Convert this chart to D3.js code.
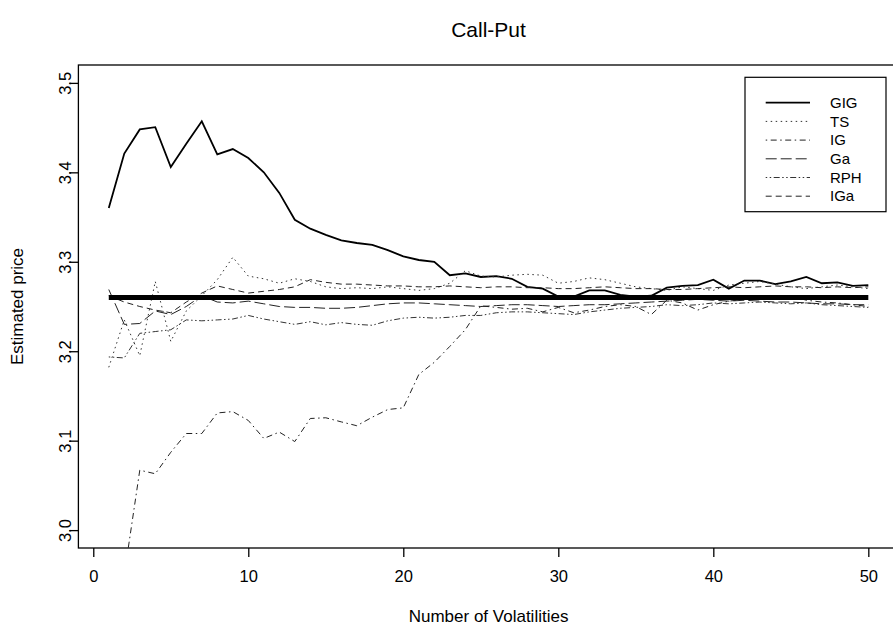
<!DOCTYPE html>
<html>
<head>
<meta charset="utf-8">
<script src="https://cdn.jsdelivr.net/npm/d3@7"></script>
<style>
  body { margin: 0; background: #fff; }
  svg text { font-family: "Liberation Sans", Arial, sans-serif; fill: #000; }
</style>
</head>
<body>
<div id="chart"></div>
<script>
/* number of volatilities on the x axis */
const volatilities = [1, 2, 3, 4, 5, 6, 7, 8, 9, 10, 11, 12, 13, 14, 15, 16, 17, 18, 19, 20,
  21, 22, 23, 24, 25, 26, 27, 28, 29, 30, 31, 32, 33, 34, 35, 36, 37, 38, 39, 40,
  41, 42, 43, 44, 45, 46, 47, 48, 49, 50];

/* estimated prices per model */
const gig = [3.360, 3.421, 3.448, 3.4505, 3.406, 3.432, 3.457, 3.420, 3.426, 3.416,
  3.400, 3.377, 3.347, 3.337, 3.330, 3.324, 3.321, 3.319, 3.313, 3.306,
  3.302, 3.300, 3.285, 3.287, 3.283, 3.284, 3.281, 3.272, 3.270, 3.261,
  3.261, 3.268, 3.268, 3.263, 3.261, 3.262, 3.271, 3.273, 3.274, 3.280,
  3.270, 3.279, 3.279, 3.275, 3.278, 3.283, 3.276, 3.277, 3.273, 3.274];
const ts = [3.182, 3.235, 3.195, 3.278, 3.211, 3.245, 3.262, 3.280, 3.305, 3.284,
  3.281, 3.276, 3.281, 3.278, 3.272, 3.270, 3.271, 3.270, 3.272, 3.270,
  3.268, 3.270, 3.276, 3.290, 3.284, 3.283, 3.285, 3.286, 3.285, 3.276,
  3.278, 3.282, 3.280, 3.276, 3.272, 3.270, 3.268, 3.272, 3.270, 3.268,
  3.274, 3.276, 3.278, 3.275, 3.272, 3.270, 3.272, 3.274, 3.272, 3.270];
const ig = [2.880, 2.950, 3.067, 3.063, 3.087, 3.108, 3.108, 3.131, 3.1325, 3.1226,
  3.1025, 3.1096, 3.099, 3.1248, 3.1256, 3.121, 3.1167, 3.1263, 3.1348, 3.1367,
  3.174, 3.1876, 3.2054, 3.224, 3.2507, 3.249, 3.247, 3.248, 3.244, 3.249,
  3.243, 3.246, 3.250, 3.252, 3.250, 3.241, 3.257, 3.254, 3.246, 3.252,
  3.256, 3.258, 3.262, 3.258, 3.262, 3.257, 3.255, 3.254, 3.252, 3.250];
const ga = [3.269, 3.230, 3.231, 3.245, 3.241, 3.250, 3.262, 3.255, 3.254, 3.256,
  3.253, 3.250, 3.249, 3.249, 3.248, 3.248, 3.249, 3.251, 3.253, 3.254,
  3.254, 3.253, 3.252, 3.251, 3.250, 3.251, 3.252, 3.252, 3.251, 3.250,
  3.251, 3.252, 3.252, 3.253, 3.254, 3.255, 3.256, 3.257, 3.258, 3.257,
  3.256, 3.257, 3.256, 3.255, 3.255, 3.254, 3.253, 3.253, 3.252, 3.252];
const rph = [3.1936, 3.1925, 3.220, 3.222, 3.224, 3.235, 3.234, 3.235, 3.236, 3.240,
  3.236, 3.233, 3.230, 3.233, 3.2295, 3.232, 3.230, 3.229, 3.234, 3.237,
  3.238, 3.237, 3.238, 3.240, 3.240, 3.243, 3.244, 3.244, 3.243, 3.242,
  3.241, 3.244, 3.246, 3.248, 3.249, 3.250, 3.252, 3.251, 3.252, 3.254,
  3.253, 3.254, 3.255, 3.254, 3.253, 3.254, 3.252, 3.251, 3.250, 3.249];
const iga = [3.262, 3.255, 3.250, 3.246, 3.243, 3.255, 3.265, 3.273, 3.269, 3.265,
  3.267, 3.269, 3.272, 3.280, 3.277, 3.275, 3.275, 3.274, 3.273, 3.273,
  3.272, 3.272, 3.273, 3.272, 3.271, 3.272, 3.272, 3.271, 3.271, 3.270,
  3.270, 3.271, 3.272, 3.271, 3.270, 3.270, 3.269, 3.269, 3.270, 3.271,
  3.272, 3.271, 3.272, 3.273, 3.272, 3.272, 3.271, 3.272, 3.271, 3.272];

/* reference price drawn as thick line */
const truePrice = 3.26;

const seriesNames = ['GIG', 'TS', 'IG', 'Ga', 'RPH', 'IGa'];
const seriesValues = [gig, ts, ig, ga, rph, iga];
const xTicks = [0, 10, 20, 30, 40, 50];
const yTicks = [3.0, 3.1, 3.2, 3.3, 3.4, 3.5];

class PriceChart {
  constructor(_config) {
    this.config = {
      parentElement: _config.parentElement,
      containerWidth: 893,
      containerHeight: 630,
      plot: { left: 78.4, right: 898.7, top: 65, bottom: 548 },
      dashes: ['none', '1.5,3.5', '1.5,3.5,6,3.5', '11,4', '1.5,2.5,1.5,2.5,6,2.5', '6,4'],
      widths: [1.8, 1, 1, 1, 1, 1],
      colors: ['#000', '#333', '#222', '#222', '#333', '#222'],
      tickFont: 16.5,
      labelFont: 17,
      titleFont: 21,
    };
    this.initVis();
  }

  initVis() {
    const vis = this;
    const p = vis.config.plot;

    vis.svg = d3.select(vis.config.parentElement).append('svg')
      .attr('width', vis.config.containerWidth)
      .attr('height', vis.config.containerHeight);

    /* R-style 4% padding around data range */
    vis.x = d3.scaleLinear().domain([-0.96, 51.96]).range([p.left, p.right]);
    vis.y = d3.scaleLinear().domain([2.98, 3.52]).range([p.bottom, p.top]);

    vis.svg.append('clipPath').attr('id', 'plot-clip')
      .append('rect')
      .attr('x', p.left).attr('y', p.top)
      .attr('width', p.right - p.left).attr('height', p.bottom - p.top);

    vis.chartArea = vis.svg.append('g').attr('clip-path', 'url(#plot-clip)');

    vis.line = d3.line()
      .x((d) => vis.x(d.x))
      .y((d) => vis.y(d.y));

    vis.series = seriesNames.map((name, i) => ({
      name,
      points: volatilities.map((v, j) => ({ x: v, y: seriesValues[i][j] })),
    }));

    vis.renderVis();
    vis.renderAxes();
    vis.renderLegend();
  }

  renderVis() {
    const vis = this;

    vis.chartArea.selectAll('.series')
      .data(vis.series)
      .join('path')
      .attr('class', 'series')
      .attr('fill', 'none')
      .attr('stroke', (d, i) => vis.config.colors[i])
      .attr('stroke-width', (d, i) => vis.config.widths[i])
      .attr('stroke-dasharray', (d, i) => vis.config.dashes[i])
      .attr('d', (d) => vis.line(d.points));

    /* thick line for the true price */
    vis.chartArea.append('line')
      .attr('x1', vis.x(volatilities[0]))
      .attr('x2', vis.x(volatilities[volatilities.length - 1]))
      .attr('y1', vis.y(truePrice))
      .attr('y2', vis.y(truePrice))
      .attr('stroke', '#000')
      .attr('stroke-width', 5);
  }

  renderAxes() {
    const vis = this;
    const p = vis.config.plot;

    vis.svg.append('rect')
      .attr('x', p.left).attr('y', p.top)
      .attr('width', p.right - p.left).attr('height', p.bottom - p.top)
      .attr('fill', 'none')
      .attr('stroke', '#000')
      .attr('stroke-width', 1.3);

    const xAxis = vis.svg.append('g')
      .attr('transform', `translate(0,${p.bottom})`)
      .call(d3.axisBottom(vis.x).tickValues(xTicks).tickSize(9));
    xAxis.select('.domain').remove();
    xAxis.selectAll('line').attr('stroke-width', 1.3);
    xAxis.selectAll('text')
      .attr('font-size', vis.config.tickFont)
      .attr('font-family', null)
      .attr('dy', null)
      .attr('y', 34);

    const yAxis = vis.svg.append('g')
      .attr('transform', `translate(${p.left},0)`)
      .call(d3.axisLeft(vis.y).tickValues(yTicks).tickSize(9).tickFormat(d3.format('.1f')));
    yAxis.select('.domain').remove();
    yAxis.selectAll('line').attr('stroke-width', 1.3);
    yAxis.selectAll('text')
      .attr('font-size', vis.config.tickFont)
      .attr('font-family', null)
      .attr('x', null).attr('dy', null)
      .attr('text-anchor', 'middle')
      .attr('transform', 'translate(-7,0) rotate(-90)');

    vis.svg.append('text')
      .attr('x', (p.left + p.right) / 2).attr('y', 37)
      .attr('text-anchor', 'middle')
      .attr('font-size', vis.config.titleFont)
      .text('Call-Put');

    vis.svg.append('text')
      .attr('x', (p.left + p.right) / 2).attr('y', 622)
      .attr('text-anchor', 'middle')
      .attr('font-size', vis.config.labelFont)
      .text('Number of Volatilities');

    vis.svg.append('text')
      .attr('transform', `translate(23,${(p.top + p.bottom) / 2}) rotate(-90)`)
      .attr('text-anchor', 'middle')
      .attr('font-size', vis.config.labelFont)
      .text('Estimated price');
  }

  renderLegend() {
    const vis = this;
    const lx = 745; const ly = 77.3;
    const rowH = 18.7;

    vis.legend = vis.svg.append('g');
    vis.legend.append('rect')
      .attr('x', lx).attr('y', ly)
      .attr('width', 141).attr('height', 134.4)
      .attr('fill', '#fff')
      .attr('stroke', '#000')
      .attr('stroke-width', 1.2);

    const rows = vis.legend.selectAll('.legend-row')
      .data(seriesNames)
      .join('g')
      .attr('class', 'legend-row')
      .attr('transform', (d, i) => `translate(${lx},${ly + 25.4 + i * rowH})`);

    rows.append('line')
      .attr('x1', 20.7).attr('x2', 65)
      .attr('stroke', (d, i) => vis.config.colors[i])
      .attr('stroke-width', (d, i) => vis.config.widths[i])
      .attr('stroke-dasharray', (d, i) => vis.config.dashes[i]);

    rows.append('text')
      .attr('x', 85).attr('dy', '0.35em')
      .attr('font-size', 15)
      .text((d) => d);
  }
}

const chart = new PriceChart({ parentElement: '#chart' });
</script>
</body>
</html>
